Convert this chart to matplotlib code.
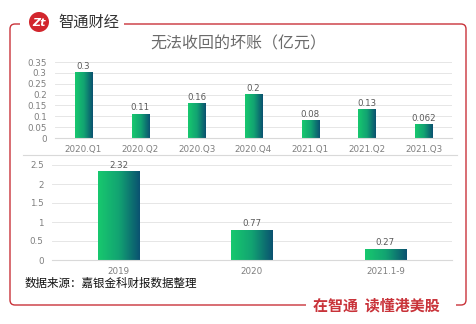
from matplotlib import pyplot as plt
from matplotlib.colors import LinearSegmentedColormap
from matplotlib.patches import FancyBboxPatch, Circle, Rectangle
import numpy as np

# quarterly bad debt (100m CNY)
q_labels = ['2020.Q1', '2020.Q2', '2020.Q3', '2020.Q4', '2021.Q1', '2021.Q2', '2021.Q3']
q_values = [0.3, 0.11, 0.16, 0.2, 0.08, 0.13, 0.062]
q_text = ['0.3', '0.11', '0.16', '0.2', '0.08', '0.13', '0.062']

# yearly bad debt
y_labels = ['2019', '2020', '2021.1-9']
y_values = [2.32, 0.77, 0.27]
y_text = ['2.32', '0.77', '0.27']

q_ticks = [0, 0.05, 0.1, 0.15, 0.2, 0.25, 0.3, 0.35]
q_ticklabels = ['0', '0.05', '0.1', '0.15', '0.2', '0.25', '0.3', '0.35']
y_ticks = [0, 0.5, 1, 1.5, 2, 2.5]
y_ticklabels = ['0', '0.5', '1', '1.5', '2', '2.5']

plt.rcParams['font.family'] = ['Noto Sans CJK SC', 'DejaVu Sans']

W, H = 477, 324
fig = plt.figure(figsize=(W / 100, H / 100), dpi=100)
fig.patch.set_facecolor('white')

# background layer in pixel coordinates
bg = fig.add_axes([0, 0, 1, 1])
bg.set_xlim(0, W)
bg.set_ylim(H, 0)
bg.axis('off')

red = '#C9333A'
frame = FancyBboxPatch((10, 24), 456, 281, boxstyle='round,pad=0,rounding_size=5',
                       fill=False, edgecolor=red, linewidth=1.0)
bg.add_patch(frame)
# gaps in the frame for logo and slogan
bg.add_patch(Rectangle((20, 18), 104, 12, facecolor='white', edgecolor='none', zorder=3))
bg.add_patch(Rectangle((306, 299), 150, 12, facecolor='white', edgecolor='none', zorder=3))

bg.add_patch(Circle((39, 22), 10, facecolor='#D2262D', edgecolor='none', zorder=4))
bg.text(39, 22.5, 'Zt', color='white', fontsize=8, fontweight='bold', style='italic',
        ha='center', va='center', family='DejaVu Sans', zorder=5)
bg.text(58, 22, '智通财经', fontsize=11, color='#333333', ha='left', va='center', zorder=5)
bg.text(313, 306, '在智通  读懂港美股', fontsize=10.8, color=red, fontweight='bold',
        ha='left', va='center', zorder=5)
bg.plot([23, 457], [155, 155], color='#d9d9d9', linewidth=0.8)
bg.text(238, 44, '无法收回的坏账（亿元）', fontsize=11.5, color='#6b6b6b', fontweight='light',
        ha='center', va='center')
bg.text(25, 283, '数据来源：嘉银金科财报数据整理', fontsize=8.3, color='#111111', ha='left', va='center')

cmap = LinearSegmentedColormap.from_list('g', ['#17C86E', '#12A372', '#0A5270'])
grad = np.linspace(0, 1, 64).reshape(1, -1)


def draw(ax, labels, values, texts, ticks, ticklabels, top, width, offset):
    x = np.arange(len(labels))
    bars = ax.bar(x, values, width=width, color='none', edgecolor='none', zorder=3)
    for b in bars:
        x0 = b.get_x()
        ax.imshow(grad, extent=[x0, x0 + b.get_width(), 0, b.get_height()], aspect='auto',
                  cmap=cmap, zorder=2, interpolation='bilinear')
    for xi, v, t in zip(x, values, texts):
        ax.text(xi, v + offset, t, ha='center', va='bottom', fontsize=6.2, color='#595959',
                family='DejaVu Sans')
    ax.set_xlim(-0.5, len(labels) - 0.5)
    ax.set_ylim(0, top)
    ax.set_yticks(ticks)
    ax.set_yticklabels(ticklabels, family='DejaVu Sans')
    ax.set_xticks(x)
    ax.set_xticklabels(labels, family='DejaVu Sans')
    ax.tick_params(length=0, labelsize=6.3, colors='#7f7f7f', pad=6)
    ax.tick_params(axis='x', pad=5)
    ax.grid(axis='y', color='#e6e6e6', linewidth=0.7, zorder=0)
    ax.set_axisbelow(True)
    for s in ax.spines.values():
        s.set_visible(False)
    ax.spines['bottom'].set_visible(True)
    ax.spines['bottom'].set_color('#d9d9d9')
    ax.set_facecolor('none')


ax1 = fig.add_axes([55 / W, 1 - 138 / H, 397 / W, 76 / H])
draw(ax1, q_labels, q_values, q_text, q_ticks, q_ticklabels, 0.35, 0.3, 0.008)

ax2 = fig.add_axes([52 / W, 1 - 260 / H, 400 / W, 95 / H])
draw(ax2, y_labels, y_values, y_text, y_ticks, y_ticklabels, 2.5, 0.31, 0.06)

fig.savefig('out.png', dpi=100)
